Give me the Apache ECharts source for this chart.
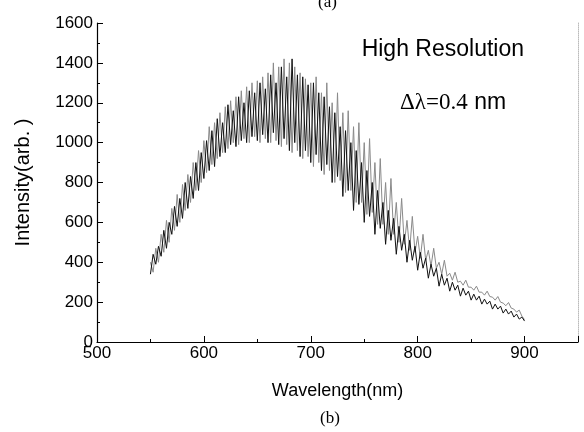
<!DOCTYPE html>
<html>
<head>
<meta charset="utf-8">
<script src="https://cdn.jsdelivr.net/npm/echarts@6/dist/echarts.min.js"></script>
<style>
html,body{margin:0;padding:0;background:#fff;}
#c{width:584px;height:432px;}
</style>
</head>
<body>
<div id="c"></div>
<script>
const wavelength = [550,552.5,555,557.5,560,562.5,565,567.5,570,572.5,575,577.5,580,582.5,585,587.5,590,592.5,595,597.5,600,602.5,605,607.5,610,612.5,615,617.5,620,622.5,625,627.5,630,632.5,635,637.5,640,642.5,645,647.5,650,652.5,655,657.5,660,662.5,665,667.5,670,672.5,675,677.5,680,682.5,685,687.5,690,692.5,695,697.5,700,702.5,705,707.5,710,712.5,715,717.5,720,722.5,725,727.5,730,732.5,735,737.5,740,742.5,745,747.5,750,752.5,755,757.5,760,762.5,765,767.5,770,772.5,775,777.5,780,782.5,785,787.5,790,792.5,795,797.5,800,802.5,805,807.5,810,812.5,815,817.5,820,822.5,825,827.5,830,832.5,835,837.5,840,842.5,845,847.5,850,852.5,855,857.5,860,862.5,865,867.5,870,872.5,875,877.5,880,882.5,885,887.5,890,892.5,895,897.5,900];

const intensityBlack = [
340,440,390,480, 430,560,470,600, 540,680,580,720, 620,800,670,830, 720,900,760,950,
820,1010,860,1060, 880,1120,930,1100, 950,1190,990,1160, 980,1230,1010,1200, 1000,1260,1030,1250,
1010,1300,1040,1270, 1000,1340,1050,1300, 990,1380,1020,1330, 960,1420,1000,1340, 930,1330,960,1290,
900,1300,940,1250, 860,1230,890,1180, 800,1150,830,1080, 730,1060,760,1000, 660,960,690,900,
600,860,630,800, 540,760,570,700, 490,660,510,620, 440,580,460,540, 400,510,410,480,
360,450,370,420, 320,390,330,370, 280,340,285,320, 255,300,260,285, 230,270,235,255,
210,240,210,230, 190,215,190,205, 165,190,165,180, 145,165,140,155, 125,140,115,125,
105];

const intensityGray = [
400,350,470,400, 540,450,610,500, 670,560,740,600, 790,660,840,700, 900,760,960,800,
1010,850,1080,890, 1100,920,1150,950, 1180,970,1210,1000, 1230,990,1260,1020, 1280,1000,1300,1030,
1310,1000,1330,1020, 1350,1000,1400,1010, 1380,980,1420,990, 1400,950,1380,960, 1350,920,1320,930,
1300,880,1330,900, 1250,840,1300,860, 1200,800,1250,810, 1150,750,1160,760, 1080,700,1100,700,
1000,640,1020,650, 900,590,920,590, 800,540,820,540, 700,500,720,490, 610,460,630,450,
530,420,540,410, 460,380,470,370, 400,340,410,330, 345,310,350,300, 305,285,310,275,
275,260,280,250, 250,235,255,228, 225,210,228,200, 195,182,198,170, 165,150,160,130,
112];

const xTicks = [500,600,700,800,900];
const yTicks = [0,200,400,600,800,1000,1200,1400,1600];

const pairs = (xs, ys) => xs.map((x, i) => [x, ys[i]]);

const chart = echarts.init(document.getElementById('c'), null, {renderer:'canvas'});
const font = 'Liberation Sans, Arial, sans-serif';
chart.setOption({
  animation:false,
  backgroundColor:'#fff',
  grid:{left:97,right:6,top:23,bottom:90},
  xAxis:{
    type:'value', min:500, max:950, interval:100,
    axisLine:{show:true,lineStyle:{color:'#000',width:1.2}},
    axisTick:{show:true,inside:true,length:6,lineStyle:{color:'#000'}},
    minorTick:{show:true,splitNumber:2,length:3,lineStyle:{color:'#000'}},
    splitLine:{show:false},
    axisLabel:{color:'#000',fontFamily:font,fontSize:17,margin:3,
      formatter:v => xTicks.includes(v) ? String(v) : ''},
    name:'Wavelength(nm)', nameLocation:'middle', nameGap:40,
    nameTextStyle:{color:'#000',fontFamily:font,fontSize:18}
  },
  yAxis:[{
    type:'value', min:0, max:1600, interval:200,
    axisLine:{show:true,lineStyle:{color:'#000',width:1.2}},
    axisTick:{show:true,inside:true,length:6,lineStyle:{color:'#000'}},
    minorTick:{show:true,splitNumber:2,length:3,lineStyle:{color:'#000'}},
    splitLine:{show:false},
    axisLabel:{color:'#000',fontFamily:font,fontSize:17,margin:4,
      formatter:v => yTicks.includes(v) ? String(v) : ''},
    name:'Intensity(arb. )', nameLocation:'middle', nameGap:64,
    nameTextStyle:{color:'#000',fontFamily:font,fontSize:20}
  },{
    type:'value', min:0, max:1600, position:'right',
    axisLine:{show:true,lineStyle:{color:'#bbb',width:1,type:'dotted'}},
    axisTick:{show:false}, axisLabel:{show:false}, splitLine:{show:false}
  }],
  graphic:[
    {type:'text', left:318, top:-6, style:{text:'(a)', font:'17px Liberation Serif, serif', fill:'#000'}},
    {type:'text', left:320, top:410, style:{text:'(b)', font:'17px Liberation Serif, serif', fill:'#000'}},
    {type:'text', right:60, top:38, style:{text:'High Resolution', font:'23px Liberation Sans, Arial, sans-serif', fill:'#000'}},
    {type:'text', left:400, top:91, style:{
      text:'{s|Δλ=0.4}  {a|nm}',
      rich:{
        s:{fontFamily:'Liberation Serif, serif', fontSize:23, fill:'#000'},
        a:{fontFamily:font, fontSize:23, fill:'#000'}
      }}}
  ],
  series:[
    {type:'line', data:pairs(wavelength,intensityGray), showSymbol:false, yAxisIndex:0,
     lineStyle:{color:'#8a8a8a',width:1}, z:2},
    {type:'line', data:pairs(wavelength,intensityBlack), showSymbol:false, yAxisIndex:0,
     lineStyle:{color:'#111',width:1}, z:3}
  ]
});
</script>
</body>
</html>
